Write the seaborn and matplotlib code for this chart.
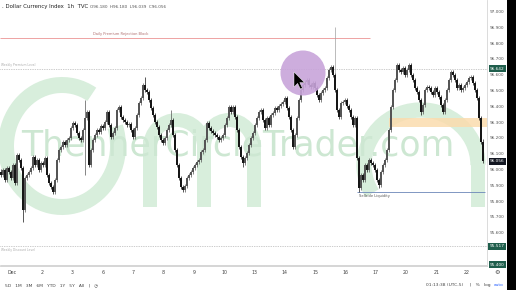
import numpy as np
import pandas as pd
import matplotlib
matplotlib.use("Agg")
import matplotlib.pyplot as plt
import matplotlib.transforms as mtransforms
from matplotlib.patches import Arc, Ellipse, Polygon, Rectangle
import seaborn as sns

# ---------------- data ----------------
closes = [
    95.968, 96.000, 95.937, 96.013, 95.987, 95.949, 96.032, 95.918, 96.095, 96.063,
    96.013, 95.747, 95.949, 95.968, 95.987, 96.013, 96.082, 96.032, 96.063, 96.000,
    96.044, 96.032, 96.076, 95.968, 95.918, 95.892, 95.861, 95.937, 96.063, 96.127,
    96.146, 96.177, 96.158, 96.190, 96.203, 96.266, 96.297, 96.285, 96.234, 96.203,
    96.190, 96.253, 96.329, 96.367, 96.032, 96.127, 96.190, 96.222, 96.253, 96.241,
    96.279, 96.266, 96.304, 96.367, 96.285, 96.209, 96.234, 96.266, 96.380, 96.399,
    96.335, 96.316, 96.304, 96.285, 96.291, 96.253, 96.209, 96.266, 96.348, 96.424,
    96.456, 96.538, 96.506, 96.494, 96.443, 96.392, 96.348, 96.304, 96.272, 96.222,
    96.190, 96.171, 96.203, 96.253, 96.285, 96.316, 96.222, 96.127, 96.032, 95.949,
    95.892, 95.873, 95.899, 95.949, 95.968, 95.987, 96.013, 96.032, 96.051, 96.063,
    96.114, 96.127, 96.190, 96.297, 96.266, 96.247, 96.234, 96.222, 96.209, 96.190,
    96.203, 96.222, 96.285, 96.329, 96.399, 96.367, 96.399, 96.335, 96.253, 96.146,
    96.082, 96.044, 96.076, 96.108, 96.158, 96.203, 96.234, 96.285, 96.329, 96.367,
    96.380, 96.316, 96.266, 96.329, 96.285, 96.348, 96.361, 96.392, 96.380, 96.405,
    96.418, 96.430, 96.456, 96.392, 96.335, 96.253, 96.146, 96.222, 96.329, 96.443,
    96.506, 96.538, 96.557, 96.570, 96.538, 96.525, 96.551, 96.519, 96.475, 96.443,
    96.487, 96.506, 96.519, 96.582, 96.633, 96.652, 96.601, 96.506, 96.380, 96.335,
    96.424, 96.430, 96.443, 96.405, 96.380, 96.335, 96.285, 96.329, 96.076, 95.886,
    95.968, 95.937, 96.032, 96.000, 96.063, 96.044, 96.032, 96.000, 95.937, 95.905,
    95.987, 96.032, 96.063, 96.127, 96.253, 96.399, 96.506, 96.570, 96.665, 96.633,
    96.620, 96.646, 96.601, 96.633, 96.665, 96.601, 96.570, 96.519, 96.494, 96.443,
    96.367, 96.411, 96.506, 96.525, 96.519, 96.494, 96.475, 96.519, 96.494, 96.462,
    96.411, 96.367, 96.443, 96.506, 96.570, 96.620, 96.601, 96.570, 96.519, 96.538,
    96.506, 96.519, 96.538, 96.557, 96.582, 96.589, 96.551, 96.506, 96.456, 96.329,
    96.180, 96.056,
]
first_open = 95.990
spike_highs = {42: 96.443, 72: 96.589, 85: 96.380}
spike_lows = {11: 95.671, 42: 95.968, 121: 96.020, 179: 95.861, 189: 95.886, 210: 96.348}
news_spike_index = 167
news_spike_high = 96.905
typical_wick = 0.014

day_labels = ["Dec", "2", "3", "6", "7", "8", "9", "10", "13", "14", "15", "16", "17", "20", "21", "22"]
price_ticks = [97.0, 96.9, 96.8, 96.7, 96.6, 96.5, 96.4, 96.3, 96.2, 96.1, 96.0, 95.9, 95.8, 95.7, 95.6]

level_daily_block = 96.835
level_upper_dotted = 96.642
level_lower_dotted = 95.517
level_floor = 95.400
level_sellside = 95.861
band_low, band_high = 96.272, 96.329
last_price = 96.056

header_title = ". Dollar Currency Index  1h  TVC"
header_ohlc = "O96.180  H96.180  L96.039  C96.056"

# ---------------- build table ----------------
opens = [first_open] + closes[:-1]
df = pd.DataFrame({"open": opens, "close": closes})
df["idx"] = np.arange(len(df))
df["high"] = [spike_highs.get(i, max(o, c) + typical_wick) for i, o, c in zip(df.idx, df.open, df.close)]
df["low"] = [spike_lows.get(i, min(o, c) - typical_wick) for i, o, c in zip(df.idx, df.open, df.close)]
df["up"] = df.close >= df.open

# ---------------- figure ----------------
sns.set_theme(style="white")
plt.rcParams["font.family"] = ["DejaVu Sans"]

W, H = 516, 290
fig = plt.figure(figsize=(W / 100, H / 100), dpi=100)
fig.patch.set_facecolor("white")

# background layer in pixel coordinates (watermark logo)
bg = fig.add_axes([0, 0, 1, 1], zorder=0)
bg.set_xlim(0, W)
bg.set_ylim(H, 0)
bg.axis("off")
green = "#d8eedc"
bg.add_patch(Arc((62, 146), 112, 122, theta1=-20, theta2=300, lw=11.5, color=green))
for sx in (150, 204, 254):
    bg.add_patch(Rectangle((sx - 7, 140), 14, 67, color=green, lw=0))
bg.add_patch(Arc((177, 147), 54, 54, theta1=180, theta2=360, lw=10, color=green))
bg.add_patch(Arc((229, 147), 50, 54, theta1=180, theta2=360, lw=10, color=green))
bg.add_patch(Arc((421, 165), 114, 110, theta1=150, theta2=360, lw=11, color=green))
bg.add_patch(Rectangle((471, 165), 14, 42, color=green, lw=0))
bg.text(238, 146, "ThennerCircleTrader.com", fontsize=25, color="#cde7d2",
        ha="center", va="center")

# main price axes
ax = fig.add_axes([0, 24 / H, 487 / W, 266 / H], zorder=1)
ax.set_facecolor("none")
ax.set_xlim(-0.5, 243)
ax.set_ylim(95.393, 97.076)

# levels / zones
ax.axhspan(band_low, band_high, xmin=(194 + 0.5) / 243.5, xmax=1, color="#fbdcae", alpha=0.85, lw=0, zorder=1)
ax.hlines(level_daily_block, -0.5, 184.5, color="#eea3a3", lw=0.7, zorder=2)
ax.text(60, level_daily_block + 0.012, "Daily Premium Rejection Block", fontsize=2.6,
        color="#b07070", ha="center", va="bottom")
ax.axhline(level_upper_dotted, color="#9a9a9a", lw=0.5, ls=(0, (1, 1.5)), zorder=2)
ax.text(0, level_upper_dotted + 0.01, "Weekly Premium Level", fontsize=2.2, color="#aaaaaa",
        ha="left", va="bottom")
ax.axhline(level_lower_dotted, color="#9a9a9a", lw=0.5, ls=(0, (1, 1.5)), zorder=2)
ax.text(0, level_lower_dotted - 0.01, "Weekly Discount Level", fontsize=2.2, color="#aaaaaa",
        ha="left", va="top")
ax.axhline(level_floor, color="#cfcfcf", lw=0.6, zorder=2)
ax.hlines(level_sellside, 178, 242, color="#6b86b8", lw=0.6, zorder=2)
ax.text(179, level_sellside - 0.012, "Sellside Liquidity", fontsize=2.6, color="#555555",
        ha="left", va="top")

# candles
ax.vlines(news_spike_index, df.high[news_spike_index], news_spike_high, color="#a0a0a0", lw=0.5, zorder=3)
colors = np.where(df.up, "#555555", "#161616")
ax.vlines(df.idx, df.low, df.high, colors=colors, lw=0.5, zorder=3)
heights = np.maximum((df.close - df.open).abs(), 0.003)
bottoms = np.minimum(df.open, df.close)
ax.bar(df.idx, heights, bottom=bottoms, width=0.75, color=colors, lw=0, zorder=4)

# axes styling
for s in ("top", "left"):
    ax.spines[s].set_visible(False)
ax.spines["right"].set_color("#d6d6d6")
ax.spines["right"].set_linewidth(0.6)
ax.spines["bottom"].set_color("#cfcfcf")
ax.spines["bottom"].set_linewidth(0.6)
ax.set_yticks([])
day_pos = [5.5 + 15.15 * i for i in range(len(day_labels))]
ax.set_xticks(day_pos)
ax.set_xticklabels(day_labels)
ax.tick_params(axis="x", length=0, pad=3, labelsize=3.4, labelcolor="#444444")
ax.grid(False)

# price scale
tr = mtransforms.blended_transform_factory(ax.transAxes, ax.transData)
for p in price_ticks:
    ax.text(1.0215, p, f"{p:.3f}", transform=tr, fontsize=3.1, color="#555555",
            ha="center", va="center", clip_on=False)
boxes = [(level_upper_dotted, "#1f5e4c"), (last_price, "#131722"),
         (level_lower_dotted, "#1f5e4c"), (level_floor, "#1f5e4c")]
for p, fc in boxes:
    ax.text(1.0215, p, f"{p:.3f}", transform=tr, fontsize=3.1, color="white",
            ha="center", va="center", clip_on=False,
            bbox=dict(boxstyle="square,pad=0.35", fc=fc, ec="none"))

# overlay: purple highlight + cursor
ov = fig.add_axes([0, 0, 1, 1], zorder=3)
ov.set_xlim(0, W)
ov.set_ylim(H, 0)
ov.axis("off")
ov.patch.set_alpha(0)
ov.add_patch(Ellipse((303, 73), 45, 45, color="#c8a4da", alpha=0.9, lw=0))
cur = np.array([[0, 0], [0, 15], [3.6, 11.4], [6.3, 17], [8.4, 16], [5.8, 10.6], [10.5, 10.6]])
ov.add_patch(Polygon(cur + np.array([294, 72]), closed=True, fc="black", ec="white", lw=0.3))

# black strip at the right
ov.add_patch(Rectangle((507, 0), 9, H, color="black", lw=0))

# header
fig.text(2 / W, 1 - 6.5 / H, header_title, fontsize=3.9, color="#222222", ha="left", va="center")
fig.text(90 / W, 1 - 6.5 / H, header_ohlc, fontsize=3.0, color="#555555", ha="left", va="center")

# bottom toolbar
fig.text(5 / W, 5 / H, "5D   1M   3M   6M   YTD   1Y   5Y   All   |   \u25F7", fontsize=3.2,
         color="#444444", ha="left", va="center")
fig.text(426 / W, 5 / H, "01:13:38 (UTC-5)", fontsize=3.2, color="#444444", ha="left", va="center")
fig.text(470 / W, 5 / H, "|   %   log", fontsize=3.2, color="#444444", ha="left", va="center")
fig.text(494 / W, 5 / H, "auto", fontsize=3.2, color="#2962ff", ha="left", va="center")
fig.text(497 / W, 1 - 273 / H, "\u2699", fontsize=4.5, color="#444444", ha="center", va="center")

fig.savefig("out.png", dpi=100)
